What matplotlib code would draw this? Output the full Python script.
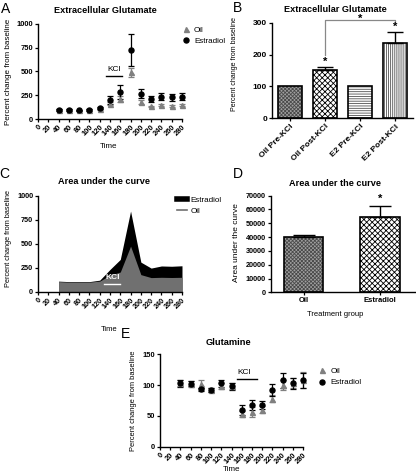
import matplotlib.pyplot as plt
import numpy as np
from matplotlib.lines import Line2D

plt.rcParams['font.family'] = ['Liberation Sans', 'DejaVu Sans']
plt.rcParams['font.weight'] = 'bold'
plt.rcParams['hatch.linewidth'] = 0.6

# A: extracellular glutamate, time course
time_pts = np.array([40, 60, 80, 100, 120, 140, 160, 180, 200, 220, 240, 260, 280])
oil_a = [95, 95, 90, 95, 105, 162, 212, 490, 182, 132, 145, 140, 145]
oil_a_err = [5, 5, 5, 5, 8, 18, 28, 45, 22, 10, 10, 10, 10]
e2_a = [95, 95, 90, 95, 112, 198, 288, 728, 268, 210, 235, 228, 235]
e2_a_err = [6, 6, 6, 6, 10, 40, 75, 168, 45, 30, 40, 40, 40]

# B: pre / post KCl
b_labels = ['Oil Pre-KCl', 'Oil Post-KCl', 'E2 Pre-KCl', 'E2 Post-KCl']
b_values = [100, 150, 100, 237]
b_err = [0, 12, 0, 35]

# C: area under the curve traces
oil_c = [105, 100, 100, 100, 110, 172, 205, 475, 178, 147, 150, 148, 150]
e2_c = [110, 105, 105, 105, 120, 232, 336, 840, 308, 246, 268, 265, 270]

# D: AUC per group
d_labels = ['Oil', 'Estradiol']
d_values = [39800, 54500]
d_err = [2000, 8000]

# E: glutamine
oil_e = [103, 102, 102, 92, 98, 98, 53, 57, 60, 78, 100, 104, 108]
oil_e_err = [5, 5, 6, 4, 5, 5, 5, 8, 6, 6, 8, 8, 13]
e2_e = [103, 102, 93, 92, 103, 98, 59, 68, 68, 92, 108, 103, 108]
e2_e_err = [6, 4, 3, 4, 6, 6, 8, 8, 6, 10, 12, 9, 12]

W, H = 416, 473
fig = plt.figure(figsize=(W / 100, H / 100), dpi=100)


def add_axes(x0, y0, x1, y1):
    # pixel box -> figure fraction
    return fig.add_axes([x0 / W, 1 - y1 / H, (x1 - x0) / W, (y1 - y0) / H])


def style(ax, size):
    for s in ['top', 'right']:
        ax.spines[s].set_visible(False)
    for s in ['left', 'bottom']:
        ax.spines[s].set_linewidth(1.0)
    ax.tick_params(length=2.5, width=0.9, labelsize=size, pad=1)


def rot_labels(ax):
    for lab in ax.get_xticklabels():
        lab.set_rotation(45)
        lab.set_ha('right')
        lab.set_rotation_mode('anchor')


def time_axis(ax):
    ax.set_xlim(0, 280)
    ax.set_xticks(np.arange(0, 281, 20))
    rot_labels(ax)


def hbar(ax, x, h, width, face, hatch, hcolor):
    ax.bar(x, h, width, color=face, edgecolor=hcolor, hatch=hatch, linewidth=0)
    ax.bar(x, h, width, fill=False, edgecolor='black', linewidth=1.2)


def txt(ax, x, y, s, **kw):
    ax.text(x, y, s, transform=ax.transAxes, ha='center', va='center', **kw)


leg_prop = {'size': 5.8, 'weight': 'normal'}
gray = '#808080'
ms = 3.6

# ---------------- A
ax = add_axes(38, 24, 182, 119)
style(ax, 5.4)
ax.errorbar(time_pts, oil_a, yerr=oil_a_err, fmt='^', color=gray, ms=ms, capsize=2,
            elinewidth=0.9, capthick=0.9, clip_on=False)
ax.errorbar(time_pts, e2_a, yerr=e2_a_err, fmt='o', color='black', ms=ms, capsize=2,
            elinewidth=0.9, capthick=0.9, clip_on=False)
ax.set_ylim(0, 1000)
ax.set_yticks([0, 250, 500, 750, 1000])
time_axis(ax)
ax.plot([133, 163], [452, 452], color='black', lw=1)
ax.text(148, 520, 'KCl', ha='center', va='center', fontsize=6, weight='normal')
txt(ax, 0.465, 1.147, 'Extracellular Glutamate', fontsize=6.6)
ax.set_ylabel('Percent change from baseline', fontsize=5.8)
ax.yaxis.set_label_coords(-0.181, 0.5)
ax.set_xlabel('Time', fontsize=5.8)
ax.xaxis.set_label_coords(0.49, -0.253)
hA = [Line2D([], [], marker='^', color=gray, ls='none', ms=ms),
      Line2D([], [], marker='o', color='black', ls='none', ms=ms)]
ax.legend(hA, ['Oil', 'Estradiol'], loc='upper left', bbox_to_anchor=(1.0, 0.98),
          frameon=False, prop=leg_prop, handlelength=1, handletextpad=0.5,
          borderaxespad=0, borderpad=0, labelspacing=0.45)

# ---------------- B
ax = add_axes(272, 22.7, 413, 118.3)
style(ax, 6.0)
xb = np.arange(len(b_labels))
styles_b = [('#a0a0a0', 'xxxxxxxxx', '#4a4a4a'), ('white', 'xxxxxx', 'black'),
            ('white', '-------', '#505050'), ('white', '||||||||', '#505050')]
for i in range(4):
    face, hatch, hc = styles_b[i]
    hbar(ax, xb[i], b_values[i], 0.68, face, hatch, hc)
    if b_err[i]:
        ax.errorbar(xb[i], b_values[i], yerr=[[0], [b_err[i]]], fmt='none', ecolor='black',
                    capsize=6, elinewidth=1, capthick=1)
ax.set_xlim(-0.5, 3.5)
ax.set_ylim(0, 300)
ax.set_yticks([0, 100, 200, 300])
ax.set_xticks(xb)
ax.set_xticklabels(b_labels)
rot_labels(ax)
ax.plot([1, 1, 3, 3], [199, 307, 307, 301], color='#888888', lw=0.9, clip_on=False)
ax.text(2, 313, '*', ha='center', va='center', fontsize=8)
ax.text(1, 176, '*', ha='center', va='center', fontsize=8)
ax.text(3, 288, '*', ha='center', va='center', fontsize=8)
txt(ax, 0.45, 1.133, 'Extracellular Glutamate', fontsize=6.6)
ax.set_ylabel('Percent change from baseline', fontsize=5.0)
ax.yaxis.set_label_coords(-0.241, 0.57)

# ---------------- C
ax = add_axes(38, 195.7, 182, 291.7)
style(ax, 5.2)
ax.fill_between(time_pts, 0, e2_c, color='black', lw=0)
ax.fill_between(time_pts, 0, oil_c, color='#707070', lw=0)
ax.set_ylim(0, 1000)
ax.set_yticks([0, 250, 500, 750, 1000])
time_axis(ax)
ax.plot([128, 160], [77, 77], color='white', lw=1)
ax.text(145, 150, 'KCl', ha='center', va='center', fontsize=6, color='white')
txt(ax, 0.458, 1.143, 'Area under the curve', fontsize=6.6)
ax.set_ylabel('Percent change from baseline', fontsize=5.3)
ax.yaxis.set_label_coords(-0.181, 0.549)
ax.set_xlabel('Time', fontsize=5.5)
ax.xaxis.set_label_coords(0.493, -0.357)
hC = [Line2D([], [], color='black', lw=4), Line2D([], [], color='#707070', lw=1.2)]
ax.legend(hC, ['Estradiol', 'Oil'], loc='upper left', bbox_to_anchor=(0.965, 0.99),
          frameon=False, prop=leg_prop, handlelength=1.3, handletextpad=0.4,
          borderaxespad=0, borderpad=0, labelspacing=0.35)

# ---------------- D
ax = add_axes(270.7, 195.7, 415, 292.3)
style(ax, 5.2)
xd = np.arange(len(d_labels))
styles_d = [('#a0a0a0', 'xxxxxxxxx', '#4a4a4a'), ('white', 'xxxxxx', 'black')]
for i in range(2):
    face, hatch, hc = styles_d[i]
    hbar(ax, xd[i], d_values[i], 0.52, face, hatch, hc)
    ax.errorbar(xd[i], d_values[i], yerr=[[0], [d_err[i]]], fmt='none', ecolor='black',
                capsize=8, elinewidth=1, capthick=1)
ax.set_xlim(-0.43, 1.46)
ax.set_ylim(0, 70000)
ax.set_yticks(np.arange(0, 70001, 10000))
ax.set_xticks(xd)
ax.set_xticklabels(d_labels, fontsize=5.5)
ax.text(1, 67600, '*', ha='center', va='center', fontsize=8)
txt(ax, 0.446, 1.122, 'Area under the curve', fontsize=6.6)
ax.set_ylabel('Area under the curve', fontsize=6.0)
ax.yaxis.set_label_coords(-0.213, 0.516)
ax.set_xlabel('Treatment group', fontsize=5.5)
ax.xaxis.set_label_coords(0.446, -0.194)

# ---------------- E
ax = add_axes(160, 354.3, 303, 446.7)
style(ax, 5.4)
ax.errorbar(time_pts, oil_e, yerr=oil_e_err, fmt='^', color=gray, ms=ms, capsize=2,
            elinewidth=0.9, capthick=0.9, clip_on=False)
ax.errorbar(time_pts, e2_e, yerr=e2_e_err, fmt='o', color='black', ms=ms, capsize=2,
            elinewidth=0.9, capthick=0.9, clip_on=False)
ax.set_ylim(0, 150)
ax.set_yticks([0, 50, 100, 150])
time_axis(ax)
ax.plot([150, 190], [109.4, 109.4], color='black', lw=1)
ax.text(165, 120, 'KCl', ha='center', va='center', fontsize=6, weight='normal')
txt(ax, 0.481, 1.13, 'Glutamine', fontsize=6.7)
ax.set_ylabel('Percent change from baseline', fontsize=5.4)
ax.yaxis.set_label_coords(-0.161, 0.5)
ax.set_xlabel('Time', fontsize=5.8)
ax.xaxis.set_label_coords(0.503, -0.205)
ax.legend(hA, ['Oil', 'Estradiol'], loc='upper left', bbox_to_anchor=(1.107, 0.857),
          frameon=False, prop=leg_prop, handlelength=1, handletextpad=0.5,
          borderaxespad=0, borderpad=0, labelspacing=0.45)

# panel letters
for letter, x, y in [('A', 6, 9), ('B', 238, 8), ('C', 4, 174), ('D', 238, 174), ('E', 125, 334)]:
    fig.text(x / W, 1 - y / H, letter, fontsize=10, weight='normal', ha='center', va='center')

fig.savefig('out.png', dpi=100)
